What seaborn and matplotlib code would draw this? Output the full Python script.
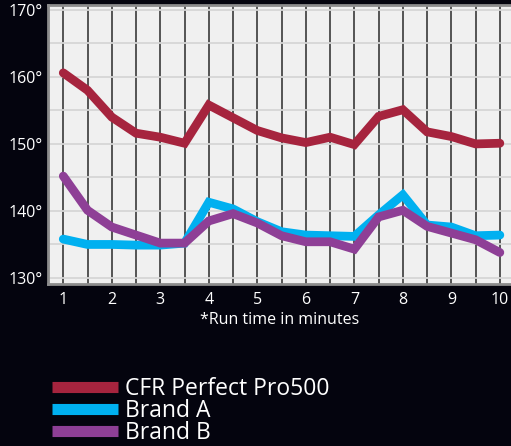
import matplotlib

matplotlib.use("Agg")

import matplotlib.pyplot as plt
import pandas as pd
import seaborn as sns
from matplotlib.ticker import MultipleLocator, FixedLocator

minutes = [1, 1.5, 2, 2.5, 3, 3.5, 4, 4.5, 5, 5.5, 6, 6.5, 7, 7.5, 8, 8.5, 9, 9.5, 10]
cfr_temps = [160.6, 158.0, 154.0, 151.6, 151.0, 150.1, 155.8, 153.9, 152.0, 150.9, 150.2,
             151.0, 149.9, 154.1, 155.1, 151.8, 151.1, 150.0, 150.1]
brand_a_temps = [135.8, 135.0, 135.0, 134.9, 134.9, 135.2, 141.3, 140.3, 138.4, 136.9, 136.4,
                 136.3, 136.2, 139.4, 142.4, 137.9, 137.6, 136.3, 136.4]
brand_b_temps = [145.2, 140.1, 137.6, 136.4, 135.2, 135.2, 138.5, 139.6, 138.2, 136.3, 135.4,
                 135.4, 134.3, 139.1, 140.1, 137.7, 136.7, 135.7, 133.8]
series_names = ["CFR Perfect Pro500", "Brand A", "Brand B"]
colors = ["#A6243E", "#00B0F0", "#8E3F96"]
y_ticks = [130, 140, 150, 160, 170]
x_ticks = [1, 2, 3, 4, 5, 6, 7, 8, 9, 10]

BG = "#04040e"

df = pd.concat(
    [
        pd.DataFrame({"minute": minutes, "temp": vals, "brand": name})
        for name, vals in zip(series_names, [cfr_temps, brand_a_temps, brand_b_temps])
    ],
    ignore_index=True,
)

sns.set_style("white")
plt.rcParams["font.family"] = ["Open Sans", "DejaVu Sans"]

fig = plt.figure(figsize=(5.11, 4.46), dpi=100, facecolor=BG)
ax = fig.add_axes([48 / 511, 1 - 284 / 446, 1 - 48 / 511, (284 - 4.5) / 446])
ax.set_facecolor("#F0F0F0")

sns.lineplot(data=df, x="minute", y="temp", hue="brand", palette=colors,
             hue_order=series_names, linewidth=6.3, ax=ax, zorder=3,
             solid_capstyle="round", solid_joinstyle="miter")

ax.set_xlim(0.685, 10.23)
ax.set_ylim(129.1, 170.8)

ax.yaxis.set_major_locator(FixedLocator(y_ticks))
ax.yaxis.set_minor_locator(MultipleLocator(5))
ax.set_yticklabels([f"{t}°" for t in y_ticks])
ax.xaxis.set_major_locator(FixedLocator(x_ticks))
ax.xaxis.set_minor_locator(FixedLocator([x + 0.5 for x in x_ticks[:-1]]))
ax.set_xticklabels([str(t) for t in x_ticks])

ax.grid(axis="y", which="both", color="#D6D6D6", linewidth=1.3, zorder=1)
ax.grid(axis="x", which="both", color="#3A3A3A", linewidth=1.2, zorder=2)
ax.tick_params(axis="both", which="both", length=0, colors="white", labelsize=11.5)
ax.tick_params(axis="x", pad=6)
ax.tick_params(axis="y", pad=4)

for side in ["left", "top", "bottom"]:
    ax.spines[side].set_color("#8C8C8C")
    ax.spines[side].set_linewidth(2)
ax.spines["right"].set_visible(False)

ax.set_xlabel("*Run time in minutes", color="white", fontsize=11.5, labelpad=3)
ax.set_ylabel("")

handles, labels = ax.get_legend_handles_labels()
for h in handles:
    h.set_linewidth(8)
    h.set_solid_capstyle("butt")
ax.legend_.remove()
leg = fig.legend(handles, labels, loc="upper left", bbox_to_anchor=(52 / 511, 1 - 377 / 446),
                 frameon=False, fontsize=16.5, handlelength=2.9, handletextpad=0.3,
                 labelspacing=-0.08, borderpad=0, borderaxespad=0)
for t in leg.get_texts():
    t.set_color("white")

fig.savefig("out.png", dpi=100, facecolor=BG)
